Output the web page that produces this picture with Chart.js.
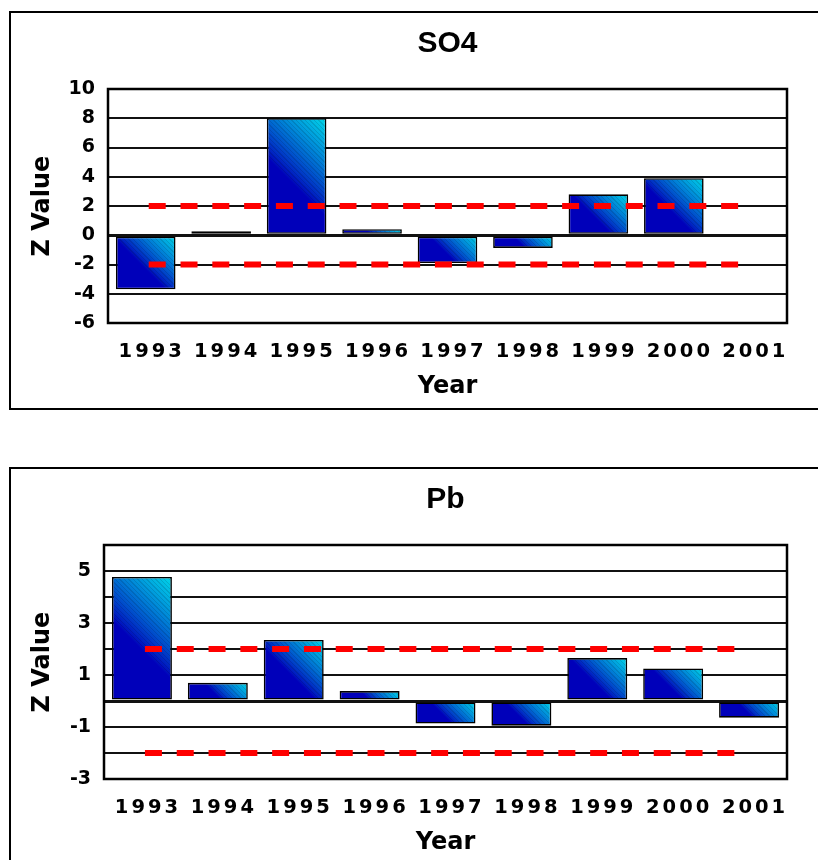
<!DOCTYPE html>
<html>
<head>
<meta charset="utf-8">
<title>Z Value by Year: SO4 and Pb</title>
<script src="https://cdn.jsdelivr.net/npm/chart.js@4.4.1/dist/chart.umd.min.js"></script>
<style>
  html, body { margin: 0; padding: 0; background: #fff; width: 818px; height: 860px; overflow: hidden; }
  .panel { position: absolute; left: 0; width: 818px; height: 420px; }
  #so4Panel { top: 0; }
  #pbPanel { top: 456px; }
</style>
</head>
<body>
<div class="panel" id="so4Panel"><canvas id="so4Chart" width="818" height="420"></canvas></div>
<div class="panel" id="pbPanel"><canvas id="pbChart" width="818" height="420"></canvas></div>
<script>
// ---- data ----
const YEARS = ['1993', '1994', '1995', '1996', '1997', '1998', '1999', '2000', '2001'];

const SO4_Z = [-3.7, 0.27, 8.0, 0.41, -1.9, -0.87, 2.8, 3.9, null];
const PB_Z  = [4.77, 0.7, 2.35, 0.38, -0.87, -0.95, 1.65, 1.25, -0.64];

// significance limits drawn as dashed red lines
const UPPER_LIMIT = [2, 2, 2, 2, 2, 2, 2, 2, 2];
const LOWER_LIMIT = [-2, -2, -2, -2, -2, -2, -2, -2, -2];

// labelled ticks on each value axis
const SO4_TICKS = [-6, -4, -2, 0, 2, 4, 6, 8, 10];
const PB_TICKS  = [-3, -1, 1, 3, 5];

// ---- styling ----
const BAR_PCT = 0.79;
const AXIS_FONT = 'DejaVu Sans';
const TITLE_FONT = 'Liberation Sans';

// blue -> cyan ramp, with an optional shade factor for the fine diagonal banding
function ramp(t, shade) {
  const e = Math.pow(Math.max(0, Math.min(1, t)), 0.8);
  const g = Math.round(216 * e * shade);
  const b = Math.round((186 + 48 * e) * shade);
  return 'rgb(0,' + g + ',' + b + ')';
}

// diagonal gradient per bar: dark blue in the lower-left part,
// fading to cyan toward the upper-right corner, with thin darker bands
function barFill(ctx) {
  const dark = ramp(0, 1);
  if (ctx.type !== 'data') return dark;
  const chart = ctx.chart;
  const xs = chart.scales.x, ys = chart.scales.y;
  const v = ctx.raw;
  if (!xs || !ys || v === null || v === undefined) return dark;
  const cx = xs.getPixelForValue(ctx.dataIndex);
  const w = xs.width / YEARS.length * BAR_PCT;
  const y0 = ys.getPixelForValue(0), y1 = ys.getPixelForValue(v);
  const h = Math.abs(y1 - y0);
  const cy = Math.min(y0, y1) + h / 2;
  const k = (w + h) / 4;
  if (![cx, cy, k].every(Number.isFinite) || k <= 0) return dark;
  const s = 0.12 * k;
  const g = chart.ctx.createLinearGradient(cx - s, cy + s, cx + k, cy - k);
  const len = Math.SQRT2 * (k + s);
  const bands = Math.max(3, Math.round(len / 3.2));
  for (let i = 0; i < bands; i++) {
    const a = i / bands, b = (i + 0.72) / bands, c = (i + 1) / bands;
    g.addColorStop(a, ramp(a, 1));
    g.addColorStop(b, ramp(b, 1));
    g.addColorStop(b, ramp(b, 0.88));
    g.addColorStop(c, ramp(c, 0.88));
  }
  return g;
}

// outer panel frame, white background and the plot-area box
const panelFrame = {
  id: 'panelFrame',
  beforeDraw(chart) {
    const c = chart.ctx;
    c.save();
    c.fillStyle = '#fff';
    c.fillRect(0, 0, chart.width, chart.height);
    c.strokeStyle = '#000';
    c.lineWidth = 2;
    c.strokeRect(10, 12, chart.width + 100, 397);
    c.restore();
  },
  beforeDatasetsDraw(chart) {
    const a = chart.chartArea, c = chart.ctx;
    c.save();
    c.strokeStyle = '#000';
    c.lineWidth = 2.5;
    c.strokeRect(a.left, a.top, a.right - a.left, a.bottom - a.top);
    c.restore();
  }
};

// wider letter spacing for the year labels
const spacedYearLabels = {
  id: 'spacedYearLabels',
  afterLayout(chart) {
    const sc = chart.scales.x;
    if (!sc || sc._spacedLabels) return;
    const orig = sc.drawLabels;
    sc.drawLabels = function (area) {
      const c = this.ctx;
      c.save();
      c.letterSpacing = '3px';
      orig.call(this, area);
      c.restore();
    };
    sc._spacedLabels = true;
  }
};

function limitLine(values) {
  return {
    type: 'line',
    data: values,
    borderColor: '#ff0000',
    borderWidth: 6,
    borderDash: [17, 14.8],
    borderDashOffset: -3,
    borderCapStyle: 'butt',
    pointRadius: 0,
    fill: false,
    tension: 0,
    order: 0
  };
}

function makeChart(canvasId, titleText, values, tickList, yMin, yMax, yStep, yAxisWidth) {
  return new Chart(document.getElementById(canvasId), {
    type: 'bar',
    data: {
      labels: YEARS,
      datasets: [
        {
          type: 'bar',
          data: values,
          backgroundColor: barFill,
          borderColor: '#000',
          borderWidth: 1.6,
          borderSkipped: false,
          barPercentage: BAR_PCT,
          categoryPercentage: 1,
          order: 1
        },
        limitLine(UPPER_LIMIT),
        limitLine(LOWER_LIMIT)
      ]
    },
    options: {
      responsive: false,
      animation: false,
      devicePixelRatio: 1,
      events: [],
      layout: { padding: { left: 12, right: 31, top: 8, bottom: 0 } },
      plugins: {
        legend: { display: false },
        tooltip: { enabled: false },
        title: {
          display: true,
          text: titleText,
          fullSize: false,
          color: '#000',
          font: { family: TITLE_FONT, size: 30, weight: 'bold', lineHeight: 1.2 },
          padding: { top: 18, bottom: 27 }
        }
      },
      scales: {
        x: {
          grid: { display: false, drawTicks: false },
          border: { display: false },
          ticks: {
            color: '#000',
            font: { family: AXIS_FONT, size: 19.5, weight: 'bold', lineHeight: 1.2 },
            padding: 17,
            labelOffset: 6,
            maxRotation: 0,
            autoSkip: false
          },
          title: {
            display: true,
            text: 'Year',
            color: '#000',
            font: { family: AXIS_FONT, size: 24, weight: 'bold', lineHeight: 1.2 },
            padding: { top: 0, bottom: 19 }
          },
          afterFit(s) { s.height = 97; }
        },
        y: {
          min: yMin,
          max: yMax,
          grid: {
            color: '#111',
            lineWidth: (c) => (c.tick && c.tick.value === 0 ? 3 : 2),
            drawTicks: false
          },
          border: { display: false },
          ticks: {
            stepSize: yStep,
            color: '#000',
            font: { family: AXIS_FONT, size: 19, weight: 'bold', lineHeight: 1.2 },
            padding: 13,
            callback: (v) => (tickList.includes(v) ? String(v) : '')
          },
          title: {
            display: true,
            text: 'Z Value',
            color: '#000',
            font: { family: AXIS_FONT, size: 24, weight: 'bold', lineHeight: 1.2 },
            padding: { top: 16, bottom: 0 }
          },
          afterFit(s) { s.width = yAxisWidth; }
        }
      }
    },
    plugins: [panelFrame, spacedYearLabels]
  });
}

makeChart('so4Chart', 'SO4', SO4_Z, SO4_TICKS, -6, 10, 2, 96);
makeChart('pbChart', 'Pb', PB_Z, PB_TICKS, -3, 6, 1, 92);
</script>
</body>
</html>
